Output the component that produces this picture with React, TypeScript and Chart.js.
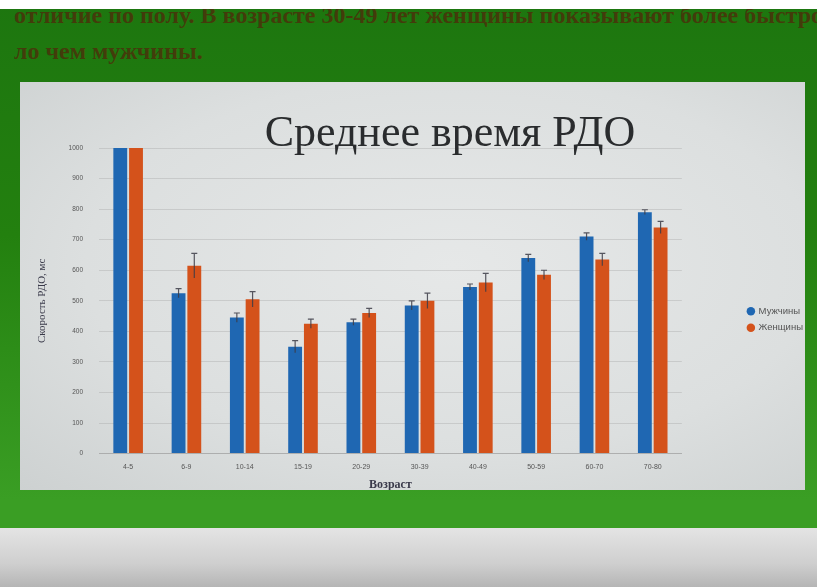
import React, { useEffect, useRef } from "react";
import { Chart, registerables } from "chart.js";

Chart.register(...registerables);

const categories = ["4-5", "6-9", "10-14", "15-19", "20-29", "30-39", "40-49", "50-59", "60-70", "70-80"];
const menValues = [1000, 525, 445, 350, 430, 485, 545, 640, 710, 790];
const womenValues = [1000, 615, 505, 425, 460, 500, 560, 585, 635, 740];
const menErrors = [0, 15, 15, 20, 10, 15, 10, 12, 12, 8];
const womenErrors = [0, 40, 25, 15, 15, 25, 30, 15, 20, 20];
const seriesNames = ["Мужчины", "Женщины"];
const yTicks = [0, 100, 200, 300, 400, 500, 600, 700, 800, 900, 1000];
const chartTitle = "Среднее время РДО";
const yTitle = "Скорость РДО, мс";
const xTitle = "Возраст";
const pageLine1 = "отличие по полу. В возрасте 30-49 лет женщины показывают более быстрое";
const pageLine2 = "ло чем мужчины.";

const errorBarsPlugin = {
  id: "errorBars",
  afterDatasetsDraw(chart: any) {
    const ctx = chart.ctx;
    const yScale = chart.scales.y;
    const errs = [menErrors, womenErrors];
    chart.data.datasets.forEach((ds: any, i: number) => {
      const meta = chart.getDatasetMeta(i);
      meta.data.forEach((bar: any, j: number) => {
        const e = errs[i][j];
        if (!e) return;
        const v = ds.data[j];
        const yTop = yScale.getPixelForValue(v + e);
        const yBot = yScale.getPixelForValue(v - e);
        ctx.save();
        ctx.strokeStyle = "rgba(60,60,70,0.85)";
        ctx.lineWidth = 1.2;
        ctx.beginPath();
        ctx.moveTo(bar.x, yBot);
        ctx.lineTo(bar.x, yTop);
        ctx.moveTo(bar.x - 3, yTop);
        ctx.lineTo(bar.x + 3, yTop);
        ctx.stroke();
        ctx.restore();
      });
    });
  },
};

const titlePlugin = {
  id: "panelTitle",
  afterDraw(chart: any) {
    const ctx = chart.ctx;
    ctx.save();
    ctx.font = "44px 'Liberation Serif'";
    ctx.fillStyle = "#2a2c2e";
    ctx.textAlign = "center";
    ctx.textBaseline = "alphabetic";
    ctx.fillText(chartTitle, 430, 64);
    ctx.restore();
  },
};

export default function App() {
  const canvasRef = useRef<HTMLCanvasElement | null>(null);

  useEffect(() => {
    if (!canvasRef.current) return;
    const chart = new Chart(canvasRef.current, {
      type: "bar",
      data: {
        labels: categories,
        datasets: [
          {
            label: seriesNames[0],
            data: menValues,
            backgroundColor: "#1f67b2",
            categoryPercentage: 0.54,
            barPercentage: 0.88,
          },
          {
            label: seriesNames[1],
            data: womenValues,
            backgroundColor: "#d4521b",
            categoryPercentage: 0.54,
            barPercentage: 0.88,
          },
        ],
      },
      options: {
        animation: false,
        responsive: true,
        maintainAspectRatio: false,
        layout: { padding: { left: 12, right: -8, top: 66, bottom: -1 } },
        plugins: {
          title: { display: false },
          tooltip: { enabled: false },
          legend: {
            position: "right",
            labels: {
              font: { family: "Liberation Sans", size: 9.5 },
              color: "#555",
              usePointStyle: true,
              pointStyle: "circle",
              boxWidth: 6,
              boxHeight: 6,
              padding: 7,
            },
          },
        },
        scales: {
          x: {
            grid: { display: false, drawTicks: false },
            border: { display: true, color: "rgba(150,150,150,0.5)" },
            ticks: {
              font: { family: "Liberation Sans", size: 7 },
              color: "#555",
              padding: 9,
              maxRotation: 0,
            },
            title: {
              display: true,
              text: xTitle,
              font: { family: "Liberation Serif", size: 12, weight: "bold", lineHeight: 1 },
              color: "#3a3a4a",
              padding: { top: -1, bottom: 0 },
            },
          },
          y: {
            min: 0,
            max: 1000,
            afterBuildTicks: (scale: any) => {
              scale.ticks = yTicks.map((v) => ({ value: v }));
            },
            afterFit: (scale: any) => {
              scale.width = 67;
            },
            grid: { color: "rgba(160,160,160,0.35)", drawTicks: false },
            border: { display: false },
            ticks: {
              font: { family: "Liberation Sans", size: 6.5 },
              color: "#555",
              padding: 16,
              callback: (v: any) => String(v),
            },
            title: {
              display: true,
              text: yTitle,
              font: { family: "Liberation Serif", size: 11 },
              color: "#3a3a4a",
              padding: { top: 4, bottom: 4 },
            },
          },
          yR: {
            position: "right",
            display: true,
            grid: { display: false },
            border: { display: false },
            ticks: { display: false },
            afterFit: (scale: any) => {
              scale.width = 59;
            },
          },
        },
      },
      plugins: [errorBarsPlugin, titlePlugin],
    } as any);
    return () => chart.destroy();
  }, []);

  return (
    <div
      style={{
        position: "fixed",
        left: 0,
        top: 0,
        width: 817,
        height: 587,
        overflow: "hidden",
        background: "linear-gradient(180deg, #1d760f 0%, #23800f 40%, #3a9e24 85%)",
      }}
    >
      <div style={{ position: "absolute", left: 0, top: 0, width: 817, height: 9, background: "#ffffff" }} />
      <div
        style={{
          position: "absolute",
          left: 0,
          top: 9,
          width: 817,
          height: 70,
          overflow: "hidden",
        }}
      >
        <div
          style={{
            position: "absolute",
            left: 14,
            top: -12,
            fontFamily: "'Liberation Serif'",
            fontWeight: "bold",
            fontSize: 24,
            color: "rgba(80,40,10,0.75)",
            whiteSpace: "nowrap",
            lineHeight: "36px",
          }}
        >
          <div>{pageLine1}</div>
          <div>{pageLine2}</div>
        </div>
      </div>
      <div
        style={{
          position: "absolute",
          left: 0,
          top: 528,
          width: 817,
          height: 59,
          background: "linear-gradient(180deg, #e4e4e4 0%, #cfcfcf 60%, #b5b5b5 100%)",
        }}
      />
      <div
        style={{
          position: "absolute",
          left: 20,
          top: 82,
          width: 785,
          height: 408,
          background: "radial-gradient(ellipse at 55% 45%, #e6e8e8 0%, #dcdfdf 60%, #cdd1d1 100%)",
        }}
      >
        <canvas ref={canvasRef} />
      </div>
    </div>
  );
}
